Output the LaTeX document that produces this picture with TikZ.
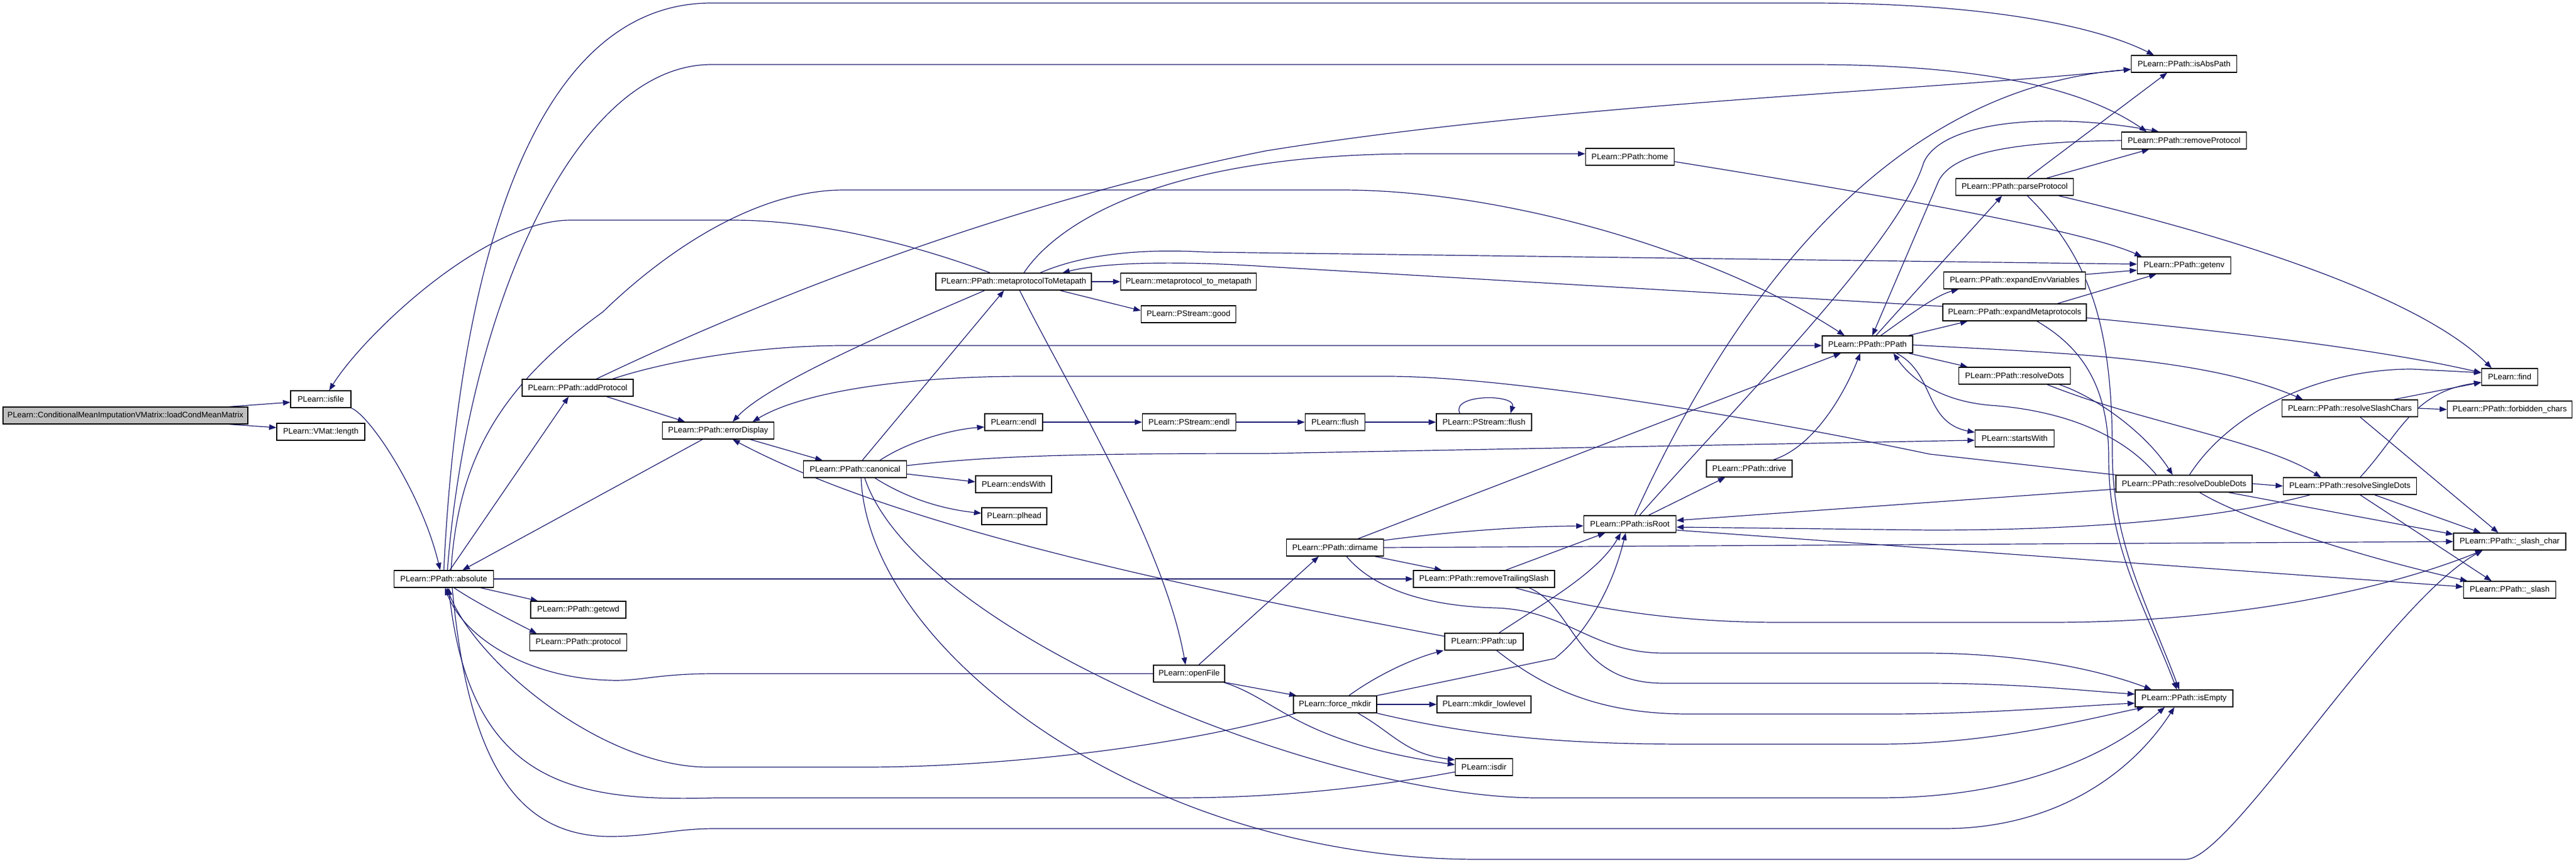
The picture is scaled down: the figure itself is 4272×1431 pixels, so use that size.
\documentclass[tikz,border=0pt]{standalone}
\usepackage{fontspec}
\setmainfont{Liberation Sans}
\usetikzlibrary{arrows.meta}
\definecolor{edgeblue}{HTML}{191970}
\definecolor{rootgray}{HTML}{BFBFBF}
\pgfdeclarelayer{bg}
\pgfsetlayers{bg,main}
\begin{document}
\begin{tikzpicture}[x=1pt,y=-1pt,
  fn/.style={draw=black, line width=1.3pt, fill=white, minimum height=28pt, inner sep=0pt, font=\fontsize{13.3}{16}\selectfont},
  callarrow/.style={draw=edgeblue, line width=1.2pt, -{Triangle[length=12pt,width=9pt]}}]
\useasboundingbox (0,0) rectangle (4272,1431);
% nodes
\node[fn, fill=rootgray, minimum width=406pt] (root) at (208,689) {PLearn::ConditionalMeanImputationVMatrix::loadCondMeanMatrix};
\node[fn, minimum width=100pt] (isfile) at (532,662) {PLearn::isfile};
\node[fn, minimum width=146pt] (vlength) at (532,716) {PLearn::VMat::length};
\node[fn, minimum width=165pt] (absolute) at (736,960) {PLearn::PPath::absolute};
\node[fn, minimum width=184pt] (addProtocol) at (958,643) {PLearn::PPath::addProtocol};
\node[fn, minimum width=158pt] (getcwd) at (959,1011) {PLearn::PPath::getcwd};
\node[fn, minimum width=161pt] (protocol) at (959,1065) {PLearn::PPath::protocol};
\node[fn, minimum width=185pt] (errorDisplay) at (1191,714) {PLearn::PPath::errorDisplay};
\node[fn, minimum width=171pt] (canonical) at (1418,778) {PLearn::PPath::canonical};
\node[fn, minimum width=258pt] (m2m) at (1681,467) {PLearn::PPath::metaprotocolToMetapath};
\node[fn, minimum width=96pt] (endl) at (1681,700) {PLearn::endl};
\node[fn, minimum width=126pt] (endsWith) at (1681,803) {PLearn::endsWith};
\node[fn, minimum width=108pt] (plhead) at (1682,856) {PLearn::plhead};
\node[fn, minimum width=225pt] (mtm) at (1971,467) {PLearn::metaprotocol\_to\_metapath};
\node[fn, minimum width=157pt] (good) at (1971,521) {PLearn::PStream::good};
\node[fn, minimum width=155pt] (psendl) at (1972,700) {PLearn::PStream::endl};
\node[fn, minimum width=118pt] (openFile) at (1972,1117) {PLearn::openFile};
\node[fn, minimum width=99pt] (flush) at (2214,700) {PLearn::flush};
\node[fn, minimum width=161pt] (dirname) at (2214,908) {PLearn::PPath::dirname};
\node[fn, minimum width=138pt] (forcemkdir) at (2214,1168) {PLearn::force\_mkdir};
\node[fn, minimum width=158pt] (psflush) at (2461,700) {PLearn::PStream::flush};
\node[fn, minimum width=234pt] (rts) at (2461,960) {PLearn::PPath::removeTrailingSlash};
\node[fn, minimum width=130pt] (up) at (2461,1064) {PLearn::PPath::up};
\node[fn, minimum width=156pt] (mkdirll) at (2461,1168) {PLearn::mkdir\_lowlevel};
\node[fn, minimum width=95pt] (isdir) at (2461,1272) {PLearn::isdir};
\node[fn, minimum width=147pt] (home) at (2703,260) {PLearn::PPath::home};
\node[fn, minimum width=153pt] (isRoot) at (2703,869) {PLearn::PPath::isRoot};
\node[fn, minimum width=142pt] (drive) at (2901,777) {PLearn::PPath::drive};
\node[fn, minimum width=150pt] (PPath) at (3097,571) {PLearn::PPath::PPath};
\node[fn, minimum width=195pt] (parseProtocol) at (3341,310) {PLearn::PPath::parseProtocol};
\node[fn, minimum width=235pt] (expandEnv) at (3341,465) {PLearn::PPath::expandEnvVariables};
\node[fn, minimum width=238pt] (expandMeta) at (3341,518) {PLearn::PPath::expandMetaprotocols};
\node[fn, minimum width=185pt] (resolveDots) at (3341,623) {PLearn::PPath::resolveDots};
\node[fn, minimum width=131pt] (startsWith) at (3341,727) {PLearn::startsWith};
\node[fn, minimum width=175pt] (isAbsPath) at (3622,106) {PLearn::PPath::isAbsPath};
\node[fn, minimum width=207pt] (removeProtocol) at (3622,233) {PLearn::PPath::removeProtocol};
\node[fn, minimum width=155pt] (getenv) at (3622,440) {PLearn::PPath::getenv};
\node[fn, minimum width=226pt] (rdd) at (3622,802) {PLearn::PPath::resolveDoubleDots};
\node[fn, minimum width=162pt] (isEmpty) at (3622,1158) {PLearn::PPath::isEmpty};
\node[fn, minimum width=225pt] (rsc) at (3897,677) {PLearn::PPath::resolveSlashChars};
\node[fn, minimum width=221pt] (rsd) at (3897,806) {PLearn::PPath::resolveSingleDots};
\node[fn, minimum width=93pt] (find) at (4162,625) {PLearn::find};
\node[fn, minimum width=207pt] (forbidden) at (4162,679) {PLearn::PPath::forbidden\_chars};
\node[fn, minimum width=186pt] (slashchar) at (4162,898) {PLearn::PPath::\_slash\_char};
\node[fn, minimum width=153pt] (slash) at (4162,978) {PLearn::PPath::\_slash};

\begin{pgfonlayer}{bg}
\fill[white] (0,0) rectangle (4272,1431);
% root
\draw[callarrow] ([xshift=-31pt]root.north east) -- ([yshift=-5pt]isfile.west);
\draw[callarrow] ([xshift=-31pt]root.south east) -- ([yshift=7pt]vlength.west);
% isfile
\draw[callarrow] (isfile.south east) .. controls (615,690) and (700,820) .. ([xshift=-6pt]absolute.north);
% absolute
\draw[callarrow] (absolute.north) .. controls (760,450) and (880,5) .. (1180,5) -- (3000,5) .. controls (3300,5) and (3480,45) .. ([xshift=-50pt]isAbsPath.north);
\draw[callarrow] ([xshift=6pt]absolute.north) .. controls (775,520) and (950,107) .. (1180,107) -- (3000,107) .. controls (3300,107) and (3460,150) .. ([xshift=-62pt]removeProtocol.north);
\draw[callarrow] ([xshift=12pt]absolute.north) .. controls (760,760) and (830,640) .. (1000,517) .. controls (1100,420) and (1250,315) .. (1400,315) -- (2224,315) .. controls (2500,315) and (2850,420) .. ([xshift=-38pt]PPath.north);
\draw[callarrow] ([xshift=10pt]absolute.north) -- ([xshift=-15pt]addProtocol.south);
\draw[callarrow] ([xshift=61pt]absolute.south) -- ([xshift=-67pt]getcwd.north);
\draw[callarrow] ([xshift=17pt]absolute.south) .. controls (790,1000) and (860,1035) .. ([xshift=-69pt]protocol.north);
\draw[callarrow] (absolute.east) -- (rts.west);
\draw[callarrow] ([xshift=14pt]absolute.south) .. controls (775,1250) and (850,1387) .. (1012,1387) .. controls (1080,1387) and (1120,1374) .. (1185,1374) -- (3223,1374) .. controls (3400,1374) and (3530,1290) .. ([xshift=-16pt]isEmpty.south);
% back edges into absolute
\draw[callarrow] (openFile.west) -- (1185,1117) .. controls (1090,1117) and (1060,1130) .. (1012,1128) .. controls (880,1125) and (770,1060) .. ([xshift=2pt]absolute.south);
\draw[callarrow] ([xshift=-65pt]forcemkdir.south) .. controls (1950,1240) and (1650,1272) .. (1435,1272) -- (1174,1272) .. controls (1000,1272) and (790,1100) .. ([xshift=5pt]absolute.south);
\draw[callarrow] ([yshift=-8pt]isdir.west) .. controls (2250,1310) and (2100,1323) .. (1950,1323) -- (1185,1323) .. controls (950,1330) and (780,1300) .. ([xshift=8pt]absolute.south);
\draw[callarrow] ([xshift=-26pt]errorDisplay.south) -- ([xshift=31pt]absolute.north);
% addProtocol
\draw[callarrow] ([xshift=48pt]addProtocol.south) -- ([xshift=-55pt]errorDisplay.north);
\draw[callarrow] ([xshift=58pt]addProtocol.north) .. controls (1100,600) and (1250,573) .. (1400,573) -- ([yshift=-2pt]PPath.west);
\draw[callarrow] ([xshift=31pt]addProtocol.north) .. controls (1300,480) and (1700,330) .. (2100,250) .. controls (2600,170) and (3200,150) .. ([yshift=-9pt]isAbsPath.west);
% errorDisplay
\draw[callarrow] ([xshift=53pt]errorDisplay.south) -- ([xshift=-54pt]canonical.north);
\draw[callarrow] ([xshift=-48pt]m2m.south) .. controls (1450,560) and (1270,640) .. ([xshift=24pt]errorDisplay.north);
\draw[callarrow] (rdd.north west) -- (3200,753) .. controls (2900,690) and (2500,624) .. (2300,624) -- (1700,624) .. controls (1500,624) and (1330,650) .. ([xshift=57pt]errorDisplay.north);
\draw[callarrow] ([yshift=9pt]up.west) .. controls (2000,980) and (1500,880) .. ([xshift=24pt]errorDisplay.south);
% canonical
\draw[callarrow] ([xshift=12pt]canonical.north) -- ([xshift=-16pt]m2m.south);
\draw[callarrow] ([xshift=41pt]canonical.north) .. controls (1510,730) and (1580,712) .. ([yshift=-8pt]endl.west);
\draw[callarrow] ([yshift=-8pt]canonical.east) -- ([yshift=4pt]endsWith.west);
\draw[callarrow] ([xshift=33pt]canonical.south) .. controls (1510,830) and (1570,845) .. ([yshift=5pt]plhead.west);
\draw[callarrow] ([yshift=6pt]canonical.east) .. controls (1650,755) and (1800,752) .. (2100,752) -- ([yshift=-3pt]startsWith.west);
\draw[callarrow] ([xshift=16pt]canonical.south) .. controls (1520,1050) and (2200,1323) .. (2550,1323) -- (3115,1323) .. controls (3350,1323) and (3500,1250) .. ([xshift=-32pt]isEmpty.south);
\draw[callarrow] ([xshift=10pt]canonical.south) .. controls (1440,1080) and (1900,1425) .. (2451,1425) -- (3625,1425) .. controls (3700,1425) and (3960,1000) .. ([xshift=-45pt]slashchar.south);
% metaprotocolToMetapath
\draw[callarrow] ([xshift=-39pt]m2m.north) .. controls (1500,400) and (1350,365) .. (1213,365) -- (947,365) .. controls (800,365) and (600,560) .. ([xshift=14pt]isfile.north);
\draw[callarrow] ([xshift=17pt]m2m.north) .. controls (1760,360) and (1950,255) .. (2350,255) -- ([yshift=5pt]home.west);
\draw[callarrow] (m2m.east) -- (mtm.west);
\draw[callarrow] ([xshift=77pt]m2m.south) -- ([yshift=6pt]good.west);
\draw[callarrow] ([xshift=44pt]m2m.north) .. controls (1800,420) and (1900,412) .. (2000,418) -- ([yshift=2pt]getenv.west);
\draw[callarrow] ([yshift=10pt]expandMeta.west) -- (2100,442) .. controls (1950,432) and (1830,435) .. ([xshift=81pt]m2m.north);
\draw[callarrow] ([xshift=10pt]m2m.south) .. controls (1770,640) and (1930,900) .. ([xshift=-6pt]openFile.north);
% streams
\draw[callarrow] (endl.east) -- (psendl.west);
\draw[callarrow] (psendl.east) -- (flush.west);
\draw[callarrow] (flush.east) -- (psflush.west);
\draw[callarrow] ([xshift=-40pt]psflush.north) .. controls (2405,653) and (2515,653) .. ([xshift=44pt]psflush.north);
% openFile
\draw[callarrow] ([xshift=16pt]openFile.north) -- ([xshift=-27pt]dirname.south);
\draw[callarrow] (openFile.south east) -- ([xshift=-64pt]forcemkdir.north);
\draw[callarrow] ([xshift=-2pt]openFile.south east) .. controls (2120,1160) and (2150,1230) .. ([yshift=4pt]isdir.west);
% force_mkdir
\draw[callarrow] ([xshift=38pt]forcemkdir.south) .. controls (2310,1215) and (2330,1250) .. ([yshift=12pt]isdir.west);
\draw[callarrow] ([xshift=23pt]forcemkdir.north) .. controls (2290,1115) and (2350,1090) .. ([xshift=-67pt]up.south);
\draw[callarrow] (forcemkdir.north east) -- (2578,1092) .. controls (2620,1060) and (2670,990) .. ([xshift=-7pt]isRoot.south);
\draw[callarrow] (forcemkdir.east) -- (mkdirll.west);
\draw[callarrow] (forcemkdir.south east) .. controls (2450,1222) and (2600,1234) .. (2800,1234) -- (3115,1234) .. controls (3300,1234) and (3450,1195) .. ([xshift=-66pt]isEmpty.south);
% dirname
\draw[callarrow] ([xshift=38pt]dirname.north) -- ([xshift=-44pt]PPath.south);
\draw[callarrow] ([yshift=12pt]dirname.east) .. controls (2400,882) and (2520,873) .. ([yshift=-3pt]isRoot.west);
\draw[callarrow] ([xshift=66pt]dirname.south) -- ([xshift=-70pt]rts.north);
\draw[callarrow] (dirname.east) -- (slashchar.west);
\draw[callarrow] ([xshift=19pt]dirname.south) .. controls (2290,990) and (2400,1006) .. (2480,1008) .. controls (2600,1012) and (2640,1083) .. (2760,1083) -- (3191,1083) .. controls (3350,1083) and (3480,1110) .. ([xshift=-54pt]isEmpty.north);
% removeTrailingSlash
\draw[callarrow] ([xshift=36pt]rts.north) -- ([xshift=-41pt]isRoot.south);
\draw[callarrow] ([xshift=52pt]rts.south) .. controls (2600,1000) and (2750,1032) .. (2950,1032) -- (3400,1032) .. controls (3700,1032) and (3950,980) .. ([xshift=-45pt]slashchar.south);
\draw[callarrow] ([xshift=75pt]rts.south) .. controls (2615,1010) and (2610,1133) .. (2760,1133) -- (3191,1133) .. controls (3350,1133) and (3450,1145) .. ([yshift=7pt]isEmpty.west);
% up
\draw[callarrow] ([xshift=25pt]up.north) .. controls (2560,1000) and (2650,950) .. ([xshift=-15pt]isRoot.south);
\draw[callarrow] ([xshift=21pt]up.south) .. controls (2560,1140) and (2650,1184) .. (2800,1184) -- (3128,1184) .. controls (3300,1184) and (3450,1170) .. ([yshift=-8pt]isEmpty.west);
% home
\draw[callarrow] ([yshift=-8pt]home.east) .. controls (3100,320) and (3450,380) .. ([xshift=-70pt]getenv.north);
% isRoot
\draw[callarrow] ([xshift=31pt]isRoot.north) -- ([xshift=-40pt]drive.south);
\draw[callarrow] ([xshift=8pt]isRoot.north) .. controls (2850,550) and (3100,150) .. ([yshift=-9pt]isAbsPath.west);
\draw[callarrow] ([xshift=16pt]isRoot.north) .. controls (2900,650) and (3150,400) .. (3190,270) .. controls (3220,200) and (3400,185) .. ([xshift=-42pt]removeProtocol.north);
\draw[callarrow] ([yshift=-10pt]isRoot.east) -- ([yshift=5pt]slash.west);
% into PPath
\draw[callarrow] ([xshift=40pt]drive.north) .. controls (3010,740) and (3060,650) .. ([xshift=-12pt]PPath.south);
\draw[callarrow] (removeProtocol.west) .. controls (3350,235) and (3240,250) .. (3215,300) -- ([xshift=8pt]PPath.north);
\draw[callarrow] ([xshift=-46pt]rdd.north) .. controls (3520,720) and (3420,680) .. (3300,672) .. controls (3220,665) and (3170,630) .. ([xshift=43pt]PPath.south);
% PPath
\draw[callarrow] ([xshift=14pt]PPath.north) -- ([xshift=-21pt]parseProtocol.south);
\draw[callarrow] ([xshift=22pt]PPath.north) .. controls (3170,520) and (3210,490) .. ([xshift=-93pt]expandEnv.south);
\draw[callarrow] ([xshift=68pt]PPath.north) -- ([xshift=-78pt]expandMeta.south);
\draw[callarrow] ([xshift=68pt]PPath.south) -- ([xshift=-78pt]resolveDots.north);
\draw[callarrow] ([xshift=48pt]PPath.south) .. controls (3210,620) and (3190,700) .. ([yshift=10pt]startsWith.west);
\draw[callarrow] ([yshift=-1pt]PPath.east) .. controls (3400,585) and (3650,590) .. ([xshift=-78pt]rsc.north);
% parseProtocol
\draw[callarrow] ([xshift=21pt]parseProtocol.north) -- ([xshift=-28pt]isAbsPath.south);
\draw[callarrow] ([xshift=53pt]parseProtocol.north) -- ([xshift=-58pt]removeProtocol.south);
\draw[callarrow] ([xshift=73pt]parseProtocol.south) .. controls (3650,380) and (4000,480) .. ([xshift=-30pt]find.north);
\draw[callarrow] ([xshift=21pt]parseProtocol.south) .. controls (3470,430) and (3503,550) .. (3503,750) .. controls (3503,900) and (3560,1000) .. ([xshift=-8pt]isEmpty.north);
% expand*
\draw[callarrow] ([yshift=10pt]expandEnv.east) -- ([yshift=-8pt]getenv.west);
\draw[callarrow] ([xshift=71pt]expandMeta.north) -- ([xshift=-46pt]getenv.south);
\draw[callarrow] ([yshift=-9pt]expandMeta.east) .. controls (3700,550) and (3950,580) .. ([yshift=7pt]find.west);
\draw[callarrow] ([xshift=37pt]expandMeta.south) .. controls (3460,580) and (3497,650) .. (3497,760) .. controls (3497,910) and (3555,1000) .. ([xshift=-12pt]isEmpty.north);
% resolveDots
\draw[callarrow] ([xshift=74pt]resolveDots.south) .. controls (3480,660) and (3560,720) .. ([xshift=-19pt]rdd.north);
\draw[callarrow] ([xshift=54pt]resolveDots.south) .. controls (3550,700) and (3750,730) .. ([xshift=-48pt]rsd.north);
% resolveDoubleDots
\draw[callarrow] (rdd.east) -- (rsd.west);
\draw[callarrow] ([xshift=9pt]rdd.north) .. controls (3700,680) and (3850,612) .. (4000,612) -- ([yshift=7pt]find.west);
\draw[callarrow] ([xshift=74pt]rdd.south) -- ([yshift=12pt]slashchar.west);
\draw[callarrow] ([xshift=26pt]rdd.south) .. controls (3720,860) and (3900,920) .. ([xshift=-70pt]slash.north);
\draw[callarrow] ([yshift=-9pt]rdd.west) -- ([yshift=6pt]isRoot.east);
% resolveSingleDots
\draw[callarrow] ([xshift=17pt]rsd.north) .. controls (3980,720) and (4000,650) .. ([yshift=-9pt]find.west);
\draw[callarrow] ([xshift=41pt]rsd.south) -- ([xshift=-48pt]slashchar.north);
\draw[callarrow] ([xshift=17pt]rsd.south) -- ([xshift=-30pt]slash.north);
\draw[callarrow] ([xshift=-66pt]rsd.south) .. controls (3700,855) and (3500,879) .. (3200,879) -- ([yshift=-5pt]isRoot.east);
% resolveSlashChars
\draw[callarrow] ([xshift=73pt]rsc.north) -- ([yshift=-9pt]find.west);
\draw[callarrow] (rsc.east) -- (forbidden.west);
\draw[callarrow] ([xshift=17pt]rsc.south) -- ([xshift=-19pt]slashchar.north);
\end{pgfonlayer}
\end{tikzpicture}
\end{document}
